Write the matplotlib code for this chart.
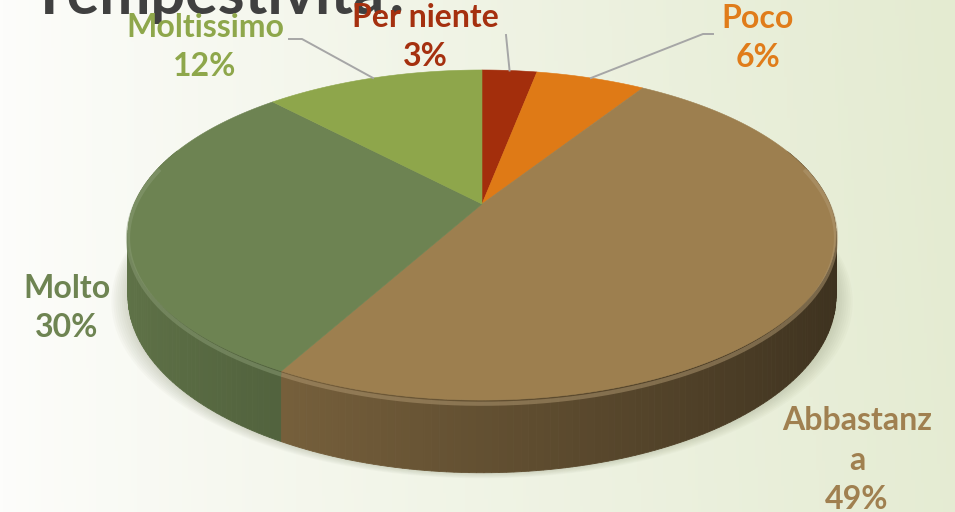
import matplotlib
matplotlib.use("Agg")
import matplotlib.pyplot as plt
import numpy as np
from matplotlib.colors import to_rgb
from matplotlib.patches import Polygon, Rectangle

# data
labels = ["Per niente", "Poco", "Abbastanza", "Molto", "Moltissimo"]
label_text = ["Per niente", "Poco", "Abbastanz\na", "Molto", "Moltissimo"]
values = [3, 6, 49, 30, 12]
top_colors = ["#A32E0C", "#DF7A16", "#9D7F4F", "#6D8352", "#8EA64B"]
text_colors = ["#A5300F", "#E07C1A", "#A08050", "#6E8452", "#8EA74B"]
title = "Tempestività?"

# label layout in pixels (x center, y center of block)
label_pos = [(425, 37), (758, 38), (857, 460), (67, 308), (205, 47)]
# leader line elbows (None = no leader)
leader_elbow = [[(506, 35)], [(713, 34), (703, 34)], None, None, [(289, 39), (302, 39)]]

# pie geometry (pixels): apex, radii, perspective factor, thickness
cx, cy = 482, 204
a, b, k = 347.7, 159.2, 0.188
depth = 59

W, H = 955, 512


def proj(theta, drop=0.0):
    u = np.sin(theta)
    v = -np.cos(theta)
    s = 1.0 / (1.0 - k * v)
    return cx + a * u * s, cy + b * v * s + drop * s


def shade(color, f):
    r, g, bb = to_rgb(color)
    return (r * f, g * f, bb * f)


def lighten(color, f):
    r, g, bb = to_rgb(color)
    return (r + (1 - r) * f, g + (1 - g) * f, bb + (1 - bb) * f)


fig = plt.figure(figsize=(W / 100, H / 100), dpi=100)
ax = fig.add_axes([0, 0, 1, 1])
ax.set_xlim(0, W)
ax.set_ylim(H, 0)
ax.axis("off")

# background gradient, white on the left to pale green on the right
xx, yy = np.meshgrid(np.linspace(0, 1, 300), np.linspace(0, 1, 160))
t = np.clip(0.85 * xx + 0.15 * (1 - yy) * xx + 0.1 * yy * xx, 0, 1) ** 0.9
c0 = np.array(to_rgb("#FDFDFB"))
c1 = np.array(to_rgb("#E4EBD1"))
bg = c0[None, None, :] * (1 - t[..., None]) + c1[None, None, :] * t[..., None]
ax.imshow(bg, extent=[0, W, H, 0], aspect="auto", zorder=0)

# soft shadow under the pie
th_all = np.linspace(0, 2 * np.pi, 361)
for i, grow in enumerate(np.linspace(16, 2, 8)):
    pts = []
    for th in th_all:
        x, y = proj(th, depth)
        pts.append((cx + (x - cx) * (1 + grow / 340), y + grow * 0.35))
    ax.add_patch(Polygon(pts, closed=True, facecolor="#7a8060", edgecolor="none",
                         alpha=0.035, zorder=1))

# slice angles, clockwise from 12 o'clock
frac = np.array(values) / np.sum(values)
ends = np.cumsum(frac) * 2 * np.pi
starts = ends - frac * 2 * np.pi

# side wall, lit from the left
strips = []
for i in range(len(values)):
    n = max(int(np.degrees(ends[i] - starts[i])), 2)
    th = np.linspace(starts[i], ends[i], n + 1)
    for j in range(n):
        t0, t1 = th[j], th[j + 1]
        tm = 0.5 * (t0 + t1)
        if -np.cos(tm) < -0.35:
            continue
        u = np.sin(tm)
        f = 0.63 - 0.25 * u
        pts = [proj(t0), proj(t1), proj(t1, depth), proj(t0, depth)]
        strips.append((-np.cos(tm), pts, shade(top_colors[i], f)))
strips.sort(key=lambda s: s[0])
for _, pts, col in strips:
    ax.add_patch(Polygon(pts, closed=True, facecolor=col, edgecolor=col,
                         linewidth=0.6, zorder=2))

# top face
for i in range(len(values)):
    th = np.linspace(starts[i], ends[i], 200)
    pts = [(cx, cy)] + [proj(tt) for tt in th]
    ax.add_patch(Polygon(pts, closed=True, facecolor=top_colors[i],
                         edgecolor=top_colors[i], linewidth=0.4, zorder=3))

# rim highlight along the front edge
for i in range(len(values)):
    th = np.linspace(starts[i], ends[i], 200)
    th = th[-np.cos(th) > -0.25]
    if len(th) < 2:
        continue
    pts = np.array([proj(tt, 3) for tt in th])
    ax.plot(pts[:, 0], pts[:, 1], color=lighten(top_colors[i], 0.2),
            linewidth=3, alpha=0.5, solid_capstyle="butt", zorder=4)

# leader lines
for i in range(len(values)):
    if leader_elbow[i] is None:
        continue
    mid = 0.5 * (starts[i] + ends[i])
    ex, ey = proj(mid)
    pts = leader_elbow[i] + [(ex, ey)]
    ax.plot([p[0] for p in pts], [p[1] for p in pts], color="#A6A6A6",
            linewidth=1.4, zorder=5)

# labels
for i in range(len(values)):
    ax.text(label_pos[i][0], label_pos[i][1], f"{label_text[i]}\n{values[i]}%",
            ha="center", va="center", multialignment="center",
            fontsize=23, fontweight="bold", family="Lato",
            color=text_colors[i], linespacing=1.42, zorder=6)

# title, cut off by the top edge and hidden below its baseline
tt = ax.text(30, 14, title, ha="left", va="baseline", fontsize=44,
             fontweight="bold", family="Lato", color="#404040", zorder=5)
tt.set_clip_path(Rectangle((0, 0), W, 14.5, transform=ax.transData))

fig.savefig("out.png", dpi=100)
